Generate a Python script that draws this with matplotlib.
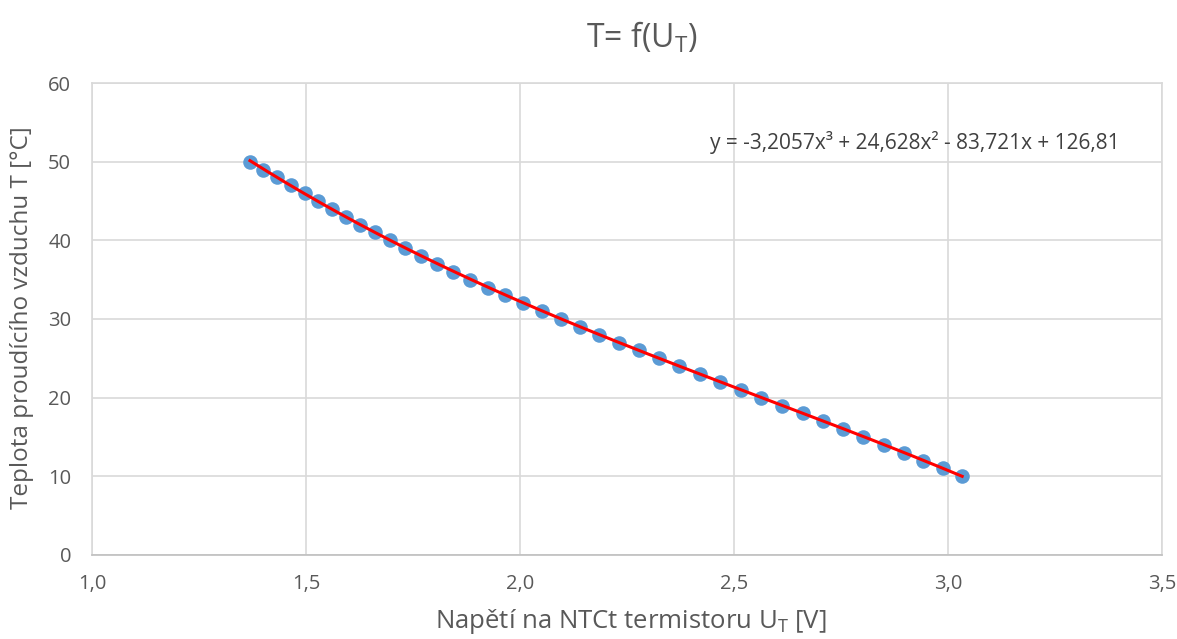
import matplotlib
matplotlib.use('Agg')
import matplotlib.pyplot as plt
import numpy as np

plt.rcParams.update({
    'font.family': ['Open Sans', 'DejaVu Sans'],
    'font.size': 12,
    'text.color': '#595959',
    'axes.labelcolor': '#595959',
    'xtick.color': '#595959',
    'ytick.color': '#595959',
})

# measured voltage U_T [V] and temperature T [°C]
voltage = [1.369, 1.400, 1.431, 1.464, 1.497, 1.528, 1.561, 1.593, 1.626, 1.660,
           1.696, 1.731, 1.768, 1.805, 1.844, 1.883, 1.924, 1.966, 2.008, 2.051,
           2.095, 2.140, 2.185, 2.231, 2.277, 2.325, 2.372, 2.421, 2.468, 2.516,
           2.564, 2.612, 2.661, 2.707, 2.755, 2.802, 2.850, 2.897, 2.942, 2.988,
           3.033]
temperature = list(range(50, 9, -1))

# cubic trendline coefficients (Excel)
trend_coef = [-3.2057, 24.628, -83.721, 126.81]

x_ticks = [1.0, 1.5, 2.0, 2.5, 3.0, 3.5]
y_ticks = [0, 10, 20, 30, 40, 50, 60]

fig = plt.figure(figsize=(11.77, 6.39), dpi=100)
ax = fig.add_axes([0.0782, 0.1315, 0.9091, 0.7386])

ax.scatter(voltage, temperature, s=110, color='#5B9BD5', zorder=3, linewidths=0)
xs = np.linspace(min(voltage), max(voltage), 200)
ax.plot(xs, np.polyval(trend_coef, xs), color='#FF0000', linewidth=2.2, zorder=4)

ax.set_xlim(1.0, 3.5)
ax.set_ylim(0, 60)
ax.set_xticks(x_ticks)
ax.set_xticklabels([f'{t:.1f}'.replace('.', ',') for t in x_ticks])
ax.set_yticks(y_ticks)
ax.tick_params(length=0, labelsize=14.5)
ax.tick_params(axis='x', pad=14)
ax.tick_params(axis='y', pad=15)
ax.grid(True, color='#D9D9D9', linewidth=1.2, zorder=0)
ax.set_axisbelow(True)
for side, sp in ax.spines.items():
    sp.set_color('#D9D9D9')
    sp.set_linewidth(1.2)
ax.spines['bottom'].set_color('#BFBFBF')

ax.text(2.444, 52.5, 'y = -3,2057x³ + 24,628x² - 83,721x + 126,81',
        fontsize=15, va='center', ha='left', color='#404040')

fig.text(642 / 1177, 1 - 38 / 639, r'T= f(U$_{\mathregular{T}}$)', fontsize=23,
         ha='center', va='center')
fig.text(631 / 1177, 1 - 621 / 639, r'Napětí na NTCt termistoru U$_{\mathregular{T}}$ [V]',
         fontsize=18.5, ha='center', va='center')
fig.text(22 / 1177, 1 - 318 / 639, 'Teplota proudícího vzduchu T [°C]', fontsize=17.5,
         ha='center', va='center', rotation=90)

fig.savefig('out.png', dpi=100)
